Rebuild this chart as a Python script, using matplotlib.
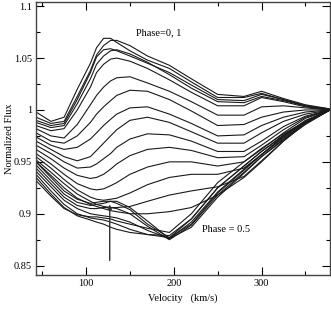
import numpy as np
import matplotlib
matplotlib.use("Agg")
import matplotlib.pyplot as plt

# velocity grid (km/s) the profiles were read at
velocity = [43, 60, 75, 90, 105, 112, 120, 128, 135, 150, 170, 195, 220, 250, 280, 300, 325, 350, 378]

# phase ~0 group (emission peak near 130 km/s)
a1 = [0.998, 0.989, 0.993, 1.020, 1.045, 1.060, 1.069, 1.069, 1.065, 1.057, 1.048, 1.040, 1.027, 1.012, 1.012, 1.016, 1.010, 1.004, 1.001]
a2 = [0.993, 0.987, 0.989, 1.013, 1.038, 1.053, 1.062, 1.067, 1.067, 1.062, 1.052, 1.043, 1.030, 1.015, 1.013, 1.018, 1.011, 1.005, 1.001]
a3 = [0.990, 0.985, 0.987, 1.010, 1.036, 1.051, 1.058, 1.059, 1.057, 1.052, 1.045, 1.036, 1.024, 1.010, 1.009, 1.015, 1.010, 1.004, 1.000]
a4 = [0.988, 0.983, 0.985, 1.006, 1.030, 1.044, 1.052, 1.057, 1.058, 1.054, 1.046, 1.034, 1.021, 1.008, 1.007, 1.013, 1.009, 1.004, 1.000]
a5 = [0.985, 0.980, 0.982, 1.000, 1.022, 1.036, 1.044, 1.049, 1.050, 1.047, 1.040, 1.029, 1.017, 1.004, 1.004, 1.012, 1.008, 1.003, 1.000]

# intermediate phases
b1 = [0.982, 0.975, 0.973, 0.986, 1.005, 1.014, 1.022, 1.028, 1.031, 1.032, 1.026, 1.018, 1.008, 0.995, 0.995, 1.003, 1.004, 1.002, 1.000]
b2 = [0.978, 0.970, 0.968, 0.975, 0.988, 0.996, 1.003, 1.009, 1.014, 1.019, 1.018, 1.010, 0.999, 0.985, 0.986, 0.993, 0.998, 1.000, 1.000]
b3 = [0.974, 0.966, 0.962, 0.964, 0.972, 0.978, 0.985, 0.991, 0.996, 1.002, 1.003, 0.996, 0.987, 0.975, 0.976, 0.985, 0.993, 0.998, 1.000]
b4 = [0.970, 0.962, 0.955, 0.951, 0.955, 0.961, 0.968, 0.975, 0.981, 0.990, 0.993, 0.988, 0.979, 0.968, 0.968, 0.978, 0.989, 0.996, 1.000]
b5 = [0.966, 0.958, 0.950, 0.944, 0.945, 0.948, 0.953, 0.958, 0.964, 0.972, 0.977, 0.976, 0.970, 0.960, 0.960, 0.970, 0.984, 0.994, 1.000]
b6 = [0.962, 0.953, 0.944, 0.937, 0.934, 0.935, 0.938, 0.943, 0.948, 0.956, 0.962, 0.964, 0.961, 0.954, 0.955, 0.966, 0.981, 0.993, 1.000]
b7 = [0.958, 0.948, 0.938, 0.929, 0.924, 0.923, 0.924, 0.927, 0.930, 0.938, 0.945, 0.950, 0.950, 0.946, 0.950, 0.962, 0.978, 0.992, 1.000]
b8 = [0.955, 0.944, 0.933, 0.923, 0.916, 0.914, 0.913, 0.914, 0.915, 0.920, 0.928, 0.935, 0.938, 0.938, 0.944, 0.957, 0.975, 0.990, 1.000]
b9 = [0.952, 0.940, 0.929, 0.919, 0.912, 0.909, 0.907, 0.906, 0.906, 0.907, 0.912, 0.918, 0.922, 0.926, 0.936, 0.951, 0.970, 0.988, 1.000]
b10 = [0.950, 0.937, 0.925, 0.915, 0.909, 0.907, 0.905, 0.903, 0.902, 0.900, 0.900, 0.902, 0.906, 0.918, 0.935, 0.950, 0.970, 0.987, 1.000]

# phase ~0.5 group (absorption near 195 km/s)
c1 = [0.950, 0.935, 0.922, 0.914, 0.910, 0.911, 0.912, 0.912, 0.910, 0.904, 0.890, 0.877, 0.895, 0.925, 0.946, 0.960, 0.976, 0.989, 1.000]
c2 = [0.947, 0.932, 0.919, 0.911, 0.908, 0.909, 0.910, 0.912, 0.912, 0.906, 0.893, 0.876, 0.892, 0.921, 0.943, 0.957, 0.974, 0.988, 1.000]
c3 = [0.944, 0.929, 0.916, 0.908, 0.905, 0.905, 0.906, 0.906, 0.905, 0.900, 0.888, 0.875, 0.889, 0.918, 0.940, 0.955, 0.972, 0.987, 1.000]
c4 = [0.941, 0.926, 0.913, 0.905, 0.900, 0.899, 0.898, 0.897, 0.896, 0.892, 0.884, 0.876, 0.887, 0.916, 0.939, 0.955, 0.971, 0.986, 1.000]
c5 = [0.938, 0.922, 0.909, 0.900, 0.896, 0.895, 0.894, 0.892, 0.890, 0.885, 0.880, 0.877, 0.890, 0.920, 0.942, 0.957, 0.973, 0.987, 1.000]
c6 = [0.935, 0.919, 0.906, 0.898, 0.894, 0.892, 0.890, 0.887, 0.885, 0.882, 0.880, 0.879, 0.895, 0.925, 0.946, 0.960, 0.975, 0.988, 1.000]
c7 = [0.932, 0.917, 0.905, 0.899, 0.897, 0.897, 0.896, 0.895, 0.893, 0.890, 0.886, 0.882, 0.900, 0.930, 0.950, 0.963, 0.977, 0.989, 1.000]

profiles = [a1, a2, a3, a4, a5, b1, b2, b3, b4, b5, b6, b7, b8, b9, b10,
            c1, c2, c3, c4, c5, c6, c7]

x_ticks = [100, 200, 300]
y_ticks = [0.85, 0.9, 0.95, 1, 1.05, 1.1]
y_tick_labels = ['0.85', '0.9', '0.95', '1', '1.05', '1.1']

plt.rcParams['font.family'] = ['Liberation Serif', 'DejaVu Serif']

fig = plt.figure(figsize=(3.31, 3.12), dpi=100)
ax = fig.add_axes([36 / 331, 1 - 275 / 312, 294 / 331, 273 / 312])

for prof in profiles:
    ax.plot(velocity, prof, color='#1a1a1a', lw=0.8)

# arrow marking the feature near 127 km/s
ax.annotate('', xy=(127, 0.909), xytext=(127, 0.855),
            arrowprops=dict(arrowstyle='-|>', color='#333333', lw=1.0,
                            mutation_scale=6, shrinkA=0, shrinkB=0))

ax.text(157, 1.074, 'Phase=0, 1', fontsize=7.5, va='center', ha='left')
ax.text(232, 0.885, 'Phase = 0.5', fontsize=7.5, va='center', ha='left')

ax.set_xlim(43, 378)
ax.set_ylim(0.841, 1.104)
ax.set_xticks(x_ticks)
ax.set_xticks([50, 150, 250, 350], minor=True)
ax.set_yticks(y_ticks)
ax.set_yticklabels(y_tick_labels)
ax.set_yticks([0.875, 0.925, 0.975, 1.025, 1.075], minor=True)
ax.tick_params(which='both', direction='in', top=True, right=True,
               labelsize=7.5, width=0.8, pad=3)
ax.tick_params(which='major', length=6)
ax.tick_params(which='minor', length=3)
for sp in ax.spines.values():
    sp.set_linewidth(1.0)
    sp.set_color('#444444')

ax.set_xlabel('Velocity   (km/s)', fontsize=7.5, labelpad=4)
ax.set_ylabel('Normalized Flux', fontsize=7.5)
ax.yaxis.set_label_coords(-0.075, 0.5)

fig.savefig('out.png', dpi=100)
